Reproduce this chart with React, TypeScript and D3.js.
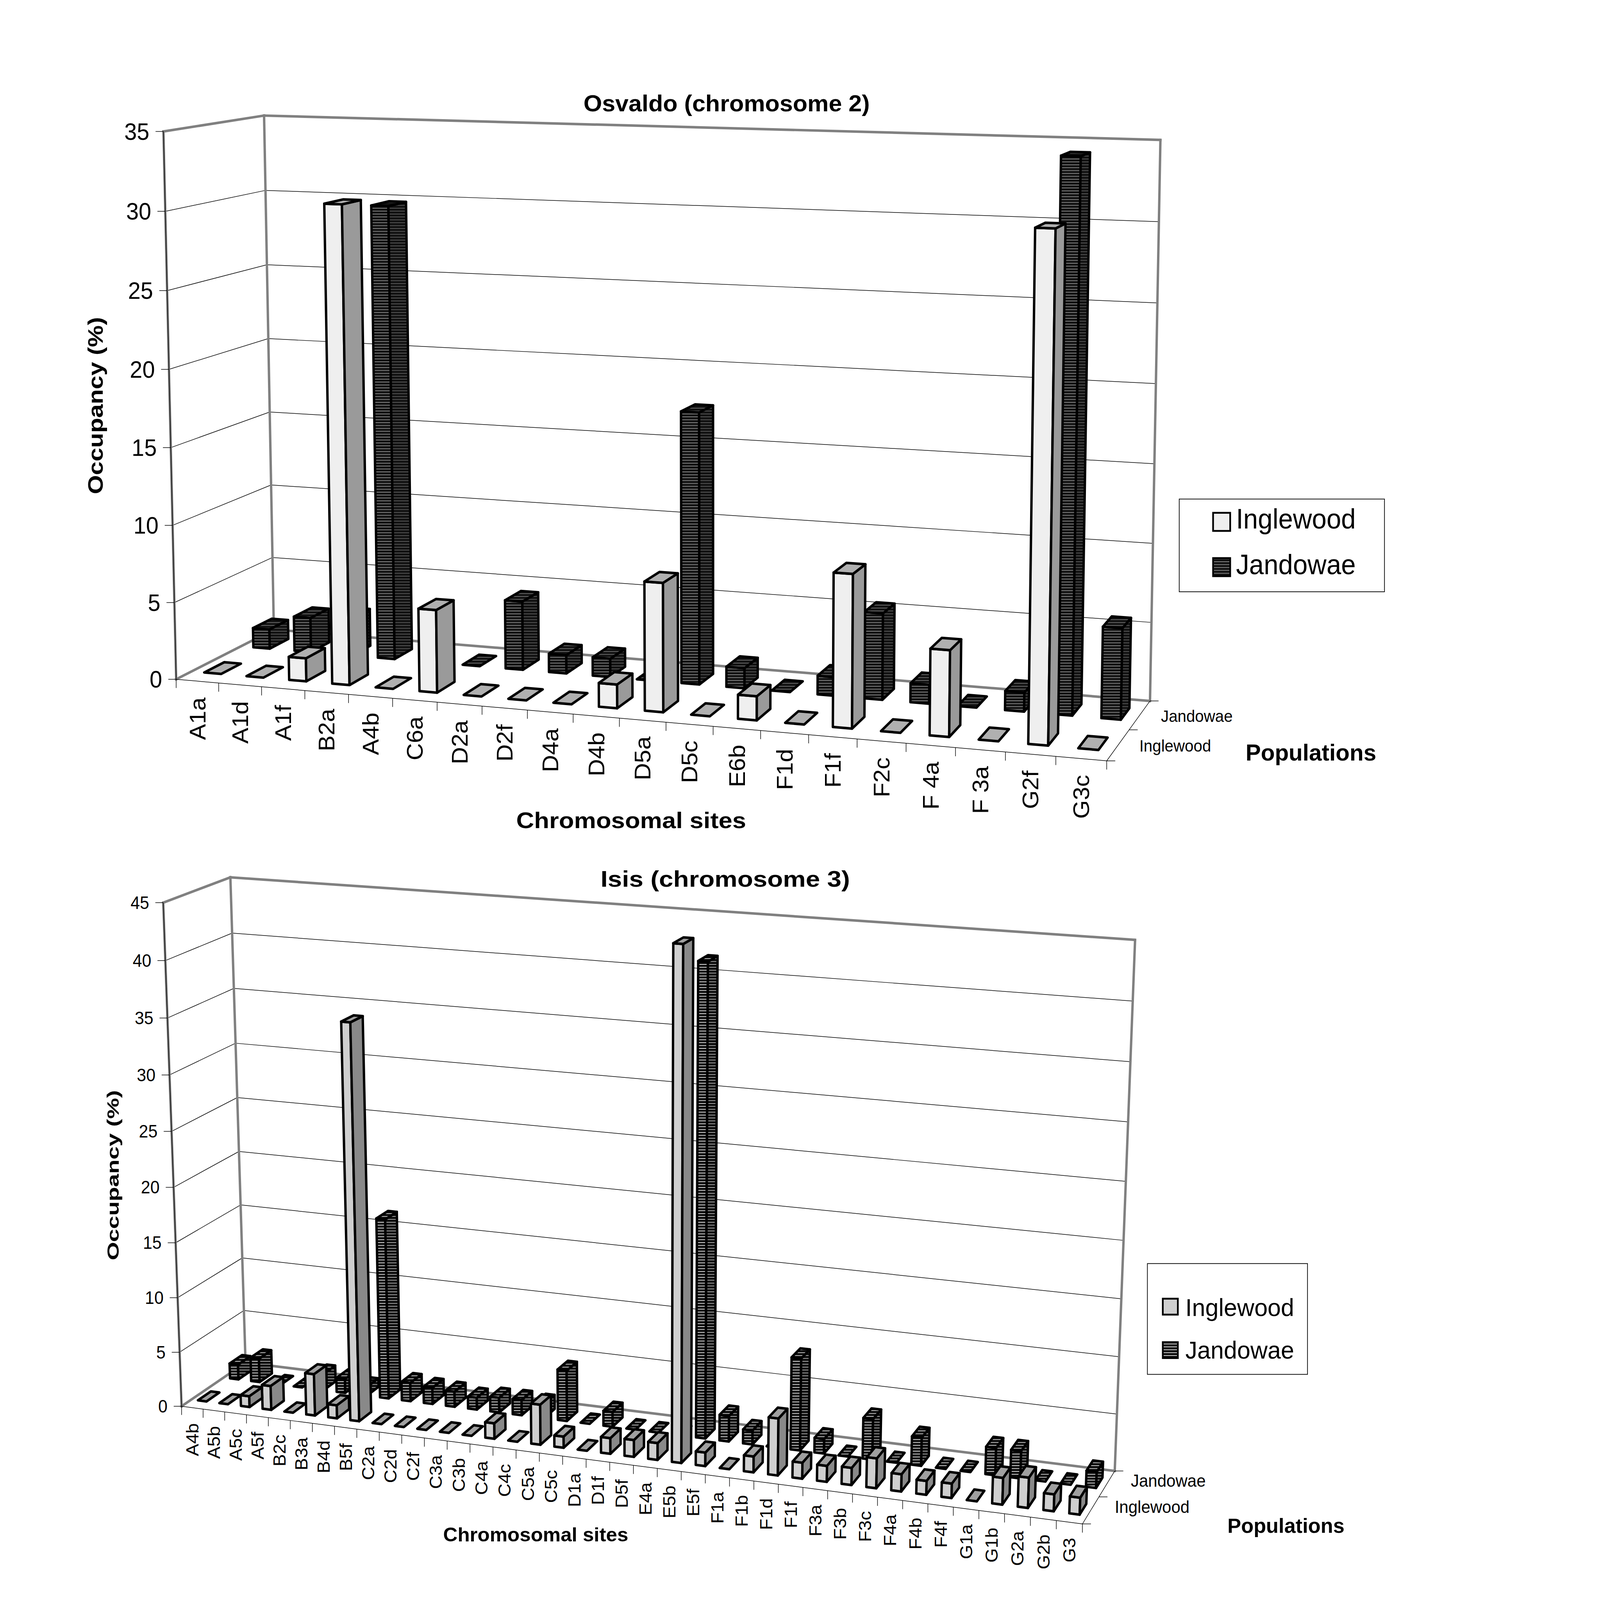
import React from 'react';
import * as d3 from 'd3';

// Osvaldo (chromosome 2)
const osvaldoSites = ['A1a', 'A1d', 'A1f', 'B2a', 'A4b', 'C6a', 'D2a', 'D2f', 'D4a', 'D4b', 'D5a', 'D5c', 'E6b', 'F1d', 'F1f', 'F2c', 'F 4a', 'F 3a', 'G2f', 'G3c'];
const osvaldoInglewood = [0, 0, 1.5, 30.6, 0, 5.3, 0, 0, 0, 1.5, 8.1, 0, 1.5, 0, 9.5, 0, 5.3, 0, 30.7, 0];
const osvaldoJandowae = [1.3, 2.3, 2.5, 29.8, 0, 0, 4.5, 1.2, 1.2, 0, 17.5, 1.3, 0, 1.2, 5.5, 1.2, 0, 1.2, 34.3, 5.7];
const osvaldoTicks = [0, 5, 10, 15, 20, 25, 30, 35];

// Isis (chromosome 3)
const isisSites = ['A4b', 'A5b', 'A5c', 'A5f', 'B2c', 'B3a', 'B4d', 'B5f', 'C2a', 'C2d', 'C2f', 'C3a', 'C3b', 'C4a', 'C4c', 'C5a', 'C5c', 'D1a', 'D1f', 'D5f', 'E4a', 'E5b', 'E5f', 'F1a', 'F1b', 'F1d', 'F1f', 'F3a', 'F3b', 'F3c', 'F4a', 'F4b', 'F4f', 'G1a', 'G1b', 'G2a', 'G2b', 'G3'];
const isisInglewood = [0, 0, 1.0, 2.2, 0, 3.8, 1.2, 35.5, 0, 0, 0, 0, 0, 1.4, 0, 3.6, 1.0, 0, 1.4, 1.5, 1.5, 44.3, 1.2, 0, 1.4, 5.0, 1.4, 1.4, 1.5, 2.6, 1.5, 1.2, 1.25, 0, 2.3, 2.6, 1.45, 1.45];
const isisJandowae = [1.4, 2.2, 0, 0, 1.5, 1.3, 0.8, 16.5, 1.7, 1.5, 1.4, 1.1, 1.35, 1.4, 1.3, 4.6, 0, 1.35, 0, 0, 0, 41.6, 2.3, 1.25, 0, 8.2, 1.3, 0, 3.6, 0, 2.5, 0, 0, 2.4, 2.4, 0, 0, 1.4];
const isisTicks = [0, 5, 10, 15, 20, 25, 30, 35, 40, 45];

const populations = ['Inglewood', 'Jandowae'];

const FONT = "'Liberation Sans', Arial, Helvetica, sans-serif";
const WALL = '#808080';
const W = 4677;
const H = 4418;

type Pt3 = [number, number, number];
type Corr = [Pt3, [number, number]];

// least squares fit of a 3x4 camera matrix (DLT) from box corners -> image points
function fitCamera(corrs: Corr[]) {
  const n = 11;
  const M = d3.range(n).map(() => new Array(n + 1).fill(0));
  const addRow = (a: number[], b: number) => {
    for (let i = 0; i < n; i++) {
      for (let j = 0; j < n; j++) M[i][j] += a[i] * a[j];
      M[i][n] += a[i] * b;
    }
  };
  corrs.forEach(([[X, Y, Z], [pu, pv]]) => {
    const u = pu / 1000, v = pv / 1000;
    addRow([X, Y, Z, 1, 0, 0, 0, 0, -u * X, -u * Y, -u * Z], u);
    addRow([0, 0, 0, 0, X, Y, Z, 1, -v * X, -v * Y, -v * Z], v);
  });
  for (let c = 0; c < n; c++) {
    let piv = c;
    for (let r = c + 1; r < n; r++) if (Math.abs(M[r][c]) > Math.abs(M[piv][c])) piv = r;
    [M[c], M[piv]] = [M[piv], M[c]];
    for (let r = 0; r < n; r++) {
      if (r === c) continue;
      const f = M[r][c] / M[c][c];
      for (let k = c; k <= n; k++) M[r][k] -= f * M[c][k];
    }
  }
  const p = M.map((row, i) => row[n] / row[i]);
  return ([X, Y, Z]: Pt3): [number, number] => {
    const w = p[8] * X + p[9] * Y + p[10] * Z + 1;
    return [
      ((p[0] * X + p[1] * Y + p[2] * Z + p[3]) / w) * 1000,
      ((p[4] * X + p[5] * Y + p[6] * Z + p[7]) / w) * 1000,
    ];
  };
}

const osvaldoLayout = {
  corners: [
    [[0, 0, 0], [517, 1876]],
    [[0, 1, 0], [475, 367]],
    [[0, 0, 1], [798, 1742]],
    [[0, 1, 1], [775, 317]],
    [[1, 0, 1], [3360, 1933]],
    [[1, 1, 1], [3393, 382]],
    [[1, 0, 0], [3236, 2101]],
    [[0, 30 / 35, 0], [482, 583]],
    [[0, 30 / 35, 1], [777, 525]],
    [[1, 30 / 35, 1], [3386, 617]],
    [[0, 5 / 35, 0], [510, 1659]],
    [[1, 0, 0.5], [3302, 2017]],
  ] as Corr[],
  tickFont: 66,
  catFont: 66,
  catGap: 45,
  depthFont: 46,
  depthDx: 62,
  depthDy: 2,
  stroke: 7,
  title: { text: 'Osvaldo (chromosome 2)', x: 2124, y: 307, size: 64, len: 837 },
  yTitle: { x: 300, y: 1120, size: 62, len: 489 },
  xTitle: { x: 1845, y: 2287, size: 62, len: 672 },
  zTitle: { x: 3832, y: 2100, size: 64, len: 382 },
  legend: {
    box: [3447, 1378, 600, 256],
    sw: 3546, swSize: 50, swY: [1416, 1541],
    tx: 3613, ty: [1459, 1586], size: 78, len: 350,
  },
  fills: [
    { front: '#efefef', side: '#9a9a9a', top: '#b0b0b0' },
    { front: 'url(#jTopFront)', side: 'url(#jTopSide)', top: 'url(#jTopTop)' },
  ],
};

const isisLayout = {
  corners: [
    [[0, 0, 0], [534, 3886]],
    [[0, 1, 0], [476, 2492]],
    [[0, 0, 1], [716, 3758]],
    [[0, 1, 1], [675, 2426]],
    [[1, 0, 1], [3262, 4061]],
    [[1, 1, 1], [3317, 2592]],
    [[1, 0, 0], [3161, 4210]],
    [[0, 40 / 45, 0], [483, 2651]],
    [[0, 40 / 45, 1], [680, 2578]],
    [[1, 40 / 45, 1], [3312, 2768]],
    [[0, 35 / 45, 0], [488, 2808]],
    [[0, 35 / 45, 1], [683, 2727]],
    [[1, 35 / 45, 1], [3305, 2933]],
    [[1, 5 / 45, 1], [3263, 3900]],
    [[0, 5 / 45, 0], [527, 3733]],
    [[0, 5 / 45, 1], [710, 3623]],
    [[1, 0, 0.5], [3213, 4135]],
  ] as Corr[],
  tickFont: 49,
  catFont: 51,
  catGap: 43,
  depthFont: 48,
  depthDx: 70,
  depthDy: -9,
  stroke: 7,
  title: { text: 'Isis (chromosome 3)', x: 2120, y: 2448, size: 62, len: 729 },
  yTitle: { x: 347, y: 3245, size: 48, len: 470 },
  xTitle: { x: 1566, y: 4256, size: 53, len: 541 },
  zTitle: { x: 3759, y: 4232, size: 56, len: 342 },
  legend: {
    box: [3354, 3489, 468, 306],
    sw: 3399, swSize: 44, swY: [3586, 3706],
    tx: 3465, ty: [3634, 3751], size: 68, len: 318,
  },
  fills: [
    { front: '#cfcfcf', side: '#898989', top: '#a0a0a0' },
    { front: 'url(#jBotFront)', side: 'url(#jBotSide)', top: 'url(#jBotTop)' },
  ],
};

type Layout = typeof osvaldoLayout;

const Chart3D = ({ sites, series, ticks, layout }: { sites: string[]; series: number[][]; ticks: number[]; layout: Layout }) => {
  const cam = fitCamera(layout.corners);
  const n = sites.length;
  const yMax = d3.max(ticks) as number;
  const xs = d3.scaleLinear().domain([0, n]).range([0, 1]);
  const ys = d3.scaleLinear().domain([0, yMax]).range([0, 1]);
  const P = (x: number, y: number, z: number) => cam([xs(x), ys(y), z]);
  const pts = (arr: [number, number][]) => arr.map((p) => p.join(',')).join(' ');
  const seg = (a: [number, number], b: [number, number]) => ({ x1: a[0], y1: a[1], x2: b[0], y2: b[1] });

  const innerTicks = ticks.filter((t) => t > 0 && t < yMax);

  // bars: back row first, right to left
  const bars: React.ReactNode[] = [];
  [1, 0].forEach((r) => {
    d3.range(n - 1, -1, -1).forEach((i) => {
      const v = series[r][i];
      const x0 = i + 0.3, x1 = i + 0.7;
      const z0 = r * 0.5 + 0.15, z1 = r * 0.5 + 0.35;
      const f = layout.fills[r];
      const common = { stroke: '#000', strokeWidth: layout.stroke, strokeLinejoin: 'round' as const };
      if (v > 0) {
        bars.push(<polygon key={`f${r}-${i}`} points={pts([P(x0, 0, z0), P(x1, 0, z0), P(x1, v, z0), P(x0, v, z0)])} fill={f.front} {...common} />);
        bars.push(<polygon key={`s${r}-${i}`} points={pts([P(x1, 0, z0), P(x1, 0, z1), P(x1, v, z1), P(x1, v, z0)])} fill={f.side} {...common} />);
      }
      bars.push(<polygon key={`t${r}-${i}`} points={pts([P(x0, v, z0), P(x1, v, z0), P(x1, v, z1), P(x0, v, z1)])} fill={f.top} {...common} />);
    });
  });

  const L = layout.legend;
  const wallEdges: [Pt3, Pt3][] = [
    [[0, yMax, 1], [n, yMax, 1]],
    [[n, 0, 1], [n, yMax, 1]],
    [[0, 0, 1], [n, 0, 1]],
    [[0, 0, 1], [0, yMax, 1]],
    [[0, yMax, 0], [0, yMax, 1]],
    [[0, 0, 0], [0, yMax, 0]],
    [[0, 0, 0], [0, 0, 1]],
  ];

  return (
    <g fontFamily={FONT}>
      {/* walls */}
      <polygon points={pts([P(0, 0, 1), P(n, 0, 1), P(n, yMax, 1), P(0, yMax, 1)])} fill="#fff" />
      <polygon points={pts([P(0, 0, 0), P(0, 0, 1), P(0, yMax, 1), P(0, yMax, 0)])} fill="#fff" />
      {innerTicks.map((t) => (
        <g key={`g${t}`} stroke="#000" strokeWidth={1.6} fill="none">
          <line {...seg(P(0, t, 0), P(0, t, 1))} />
          <line {...seg(P(0, t, 1), P(n, t, 1))} />
        </g>
      ))}
      {wallEdges.map(([a, b], k) => (
        <line key={`w${k}`} {...seg(P(a[0], a[1], a[2]), P(b[0], b[1], b[2]))} stroke={WALL} strokeWidth={7} strokeLinecap="square" />
      ))}
      {/* axes */}
      <g stroke="#000" strokeWidth={1.6}>
        <line {...seg(P(0, 0, 0), P(0, yMax, 0))} />
        <line {...seg(P(0, 0, 0), P(n, 0, 0))} />
        <line {...seg(P(n, 0, 0), P(n, 0, 1))} />
        {ticks.map((t) => {
          const [x, y] = P(0, t, 0);
          return <line key={`yt${t}`} x1={x - 23} y1={y} x2={x} y2={y} />;
        })}
        {d3.range(n + 1).map((i) => {
          const [x, y] = P(i, 0, 0);
          return <line key={`xt${i}`} x1={x} y1={y} x2={x} y2={y + 24} />;
        })}
        {[0, 0.5, 1].map((z) => {
          const [x, y] = P(n, 0, z);
          return <line key={`zt${z}`} x1={x} y1={y} x2={x + 25} y2={y} />;
        })}
      </g>
      {ticks.map((t) => {
        const [x, y] = P(0, t, 0);
        return (
          <text key={`yl${t}`} x={x - 41} y={y} dy="0.35em" textAnchor="end" fontSize={layout.tickFont}>
            {t}
          </text>
        );
      })}
      {sites.map((s, i) => {
        const [x, y] = P(i + 0.5, 0, 0);
        return (
          <text key={`xl${i}`} transform={`translate(${x},${y + layout.catGap}) rotate(-90)`} dy="0.35em" textAnchor="end" fontSize={layout.catFont}>
            {s}
          </text>
        );
      })}
      {populations.map((p, r) => {
        const [x, y] = P(n, 0, r * 0.5 + 0.25);
        return (
          <text key={`zl${p}`} x={x + layout.depthDx} y={y + layout.depthDy} dy="0.35em" fontSize={layout.depthFont}>
            {p}
          </text>
        );
      })}
      {bars}
      {/* titles */}
      <text x={layout.title.x} y={layout.title.y} textAnchor="middle" fontWeight="bold" fontSize={layout.title.size} textLength={layout.title.len} lengthAdjust="spacingAndGlyphs">
        {layout.title.text}
      </text>
      <text transform={`translate(${layout.yTitle.x},${layout.yTitle.y}) rotate(-90)`} textAnchor="middle" fontWeight="bold" fontSize={layout.yTitle.size} textLength={layout.yTitle.len} lengthAdjust="spacingAndGlyphs">
        Occupancy (%)
      </text>
      <text x={layout.xTitle.x} y={layout.xTitle.y} textAnchor="middle" fontWeight="bold" fontSize={layout.xTitle.size} textLength={layout.xTitle.len} lengthAdjust="spacingAndGlyphs">
        Chromosomal sites
      </text>
      <text x={layout.zTitle.x} y={layout.zTitle.y} textAnchor="middle" fontWeight="bold" fontSize={layout.zTitle.size} textLength={layout.zTitle.len} lengthAdjust="spacingAndGlyphs">
        Populations
      </text>
      {/* legend */}
      <rect x={L.box[0]} y={L.box[1]} width={L.box[2]} height={L.box[3]} fill="#fff" stroke="#000" strokeWidth={2} />
      {populations.map((p, r) => (
        <g key={`lg${p}`}>
          <rect x={L.sw} y={L.swY[r]} width={L.swSize} height={L.swSize} fill={layout.fills[r].front} stroke="#000" strokeWidth={5} />
          <text x={L.tx} y={L.ty[r]} fontSize={L.size} textLength={L.len} lengthAdjust="spacingAndGlyphs">
            {p}
          </text>
        </g>
      ))}
    </g>
  );
};

const stripes = (id: string, bg: string, line: string, period: number, thick: number) => (
  <pattern id={id} width={16} height={period} patternUnits="userSpaceOnUse">
    <rect width={16} height={period} fill={bg} />
    <rect y={period - thick} width={16} height={thick} fill={line} />
  </pattern>
);

export default function App() {
  // the svg fills the viewport whatever its real size, the drawing keeps the 4677x4418 frame
  return (
    <svg
      viewBox={`0 0 ${W} ${H}`}
      preserveAspectRatio="none"
      style={{ position: 'fixed', left: 0, top: 0, width: '100vw', height: '100vh', background: '#fff' }}
    >
      <defs>
        {stripes('jTopFront', '#111', '#8a8a8a', 8, 2)}
        {stripes('jTopSide', '#111', '#5c5c5c', 8, 2)}
        {stripes('jTopTop', '#111', '#707070', 8, 2)}
        {stripes('jBotFront', '#0a0a0a', '#e6e6e6', 8, 2)}
        {stripes('jBotSide', '#0a0a0a', '#b0b0b0', 8, 2)}
        {stripes('jBotTop', '#0a0a0a', '#cfcfcf', 8, 2)}
      </defs>
      <rect width={W} height={H} fill="#fff" />
      <Chart3D sites={osvaldoSites} series={[osvaldoInglewood, osvaldoJandowae]} ticks={osvaldoTicks} layout={osvaldoLayout} />
      <Chart3D sites={isisSites} series={[isisInglewood, isisJandowae]} ticks={isisTicks} layout={isisLayout as Layout} />
    </svg>
  );
}
